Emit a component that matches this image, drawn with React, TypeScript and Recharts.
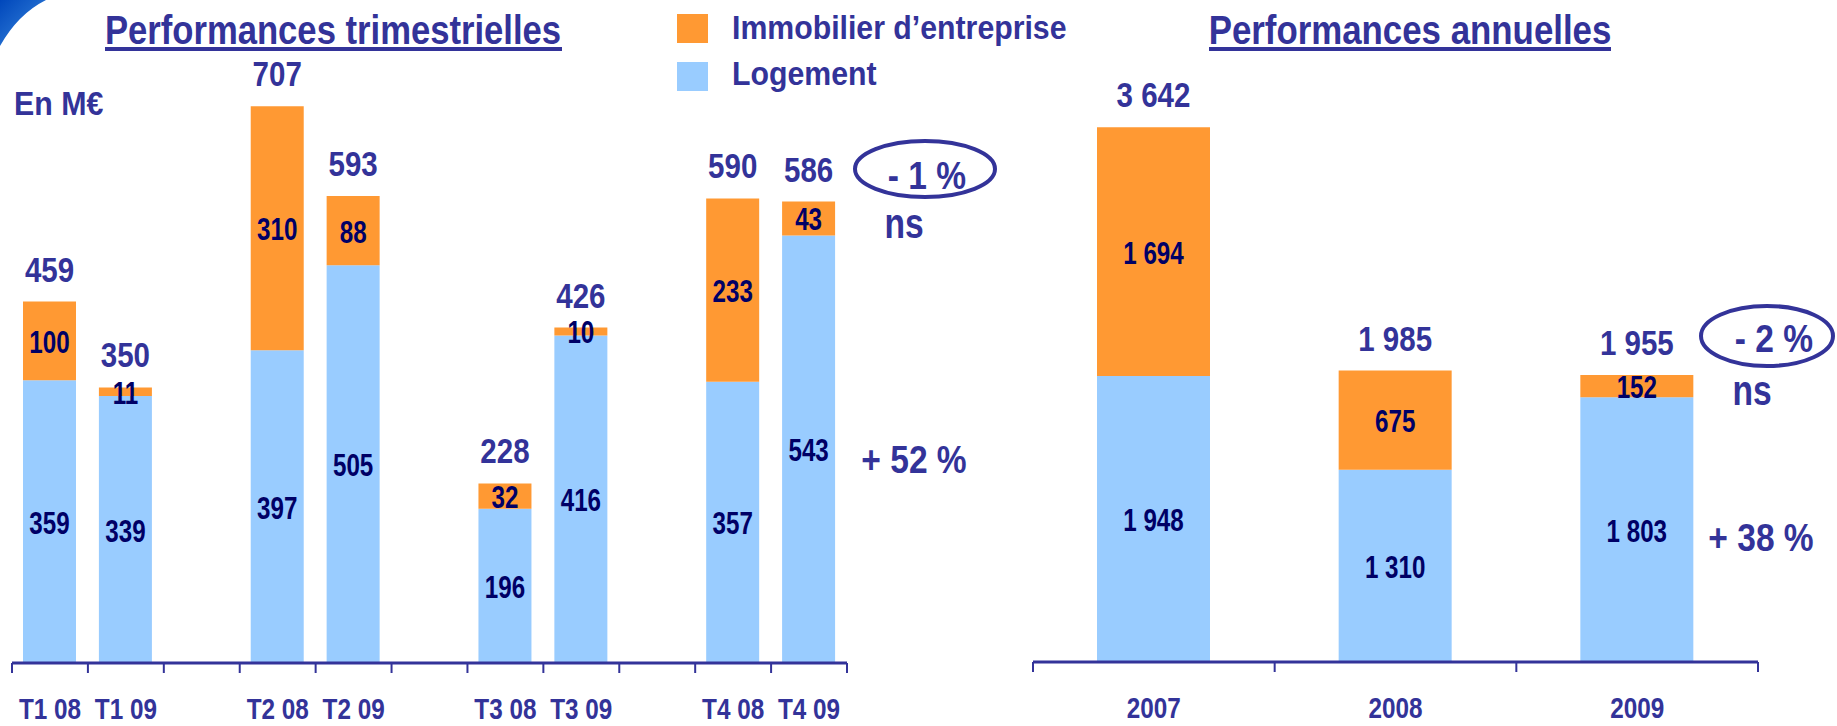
import React from 'react'
import { Bar, BarChart, LabelList, XAxis, YAxis } from 'recharts'

const quarters = ['T1 08', 'T1 09', '', 'T2 08', 'T2 09', '', 'T3 08', 'T3 09', '', 'T4 08', 'T4 09']
const quarterLogement = [359, 339, null, 397, 505, null, 196, 416, null, 357, 543]
const quarterImmo = [100, 11, null, 310, 88, null, 32, 10, null, 233, 43]
const quarterTotal = [459, 350, null, 707, 593, null, 228, 426, null, 590, 586]

const years = ['2007', '2008', '2009']
const yearLogement = [1948, 1310, 1803]
const yearImmo = [1694, 675, 152]
const yearTotal = [3642, 1985, 1955]

const BLUE_TEXT = '#333399'
const NAVY = '#000066'
const ORANGE = '#FF9933'
const LIGHT_BLUE = '#99CCFF'
const FONT = "'Liberation Sans', Arial, sans-serif"

const quarterData = quarters.map((name, i) => ({
    name,
    logement: quarterLogement[i],
    immo: quarterImmo[i],
    total: quarterTotal[i],
}))

const yearData = years.map((name, i) => ({
    name,
    logement: yearLogement[i],
    immo: yearImmo[i],
    total: yearTotal[i],
}))

const fmt = (v: number): string => String(v).replace(/\B(?=(\d{3})+(?!\d))/g, ' ')

// bold Arial squeezed horizontally, close to the Arial Narrow of the slide
const NText = ({ x, y, size, fill = BLUE_TEXT, anchor = 'middle', sx = 0.82, children }: any) => (
    <text transform={`translate(${x} ${y}) scale(${sx} 1)`} textAnchor={anchor}
        fontFamily={FONT} fontWeight="bold" fontSize={size} fill={fill}>
        {children}
    </text>
)

const innerLabel = (props: any) => {
    const { x, y, width, height, value } = props
    if (value == null) return null
    return <NText x={x + width / 2} y={y + height / 2 + 12} size={31} sx={0.78} fill={NAVY}>{fmt(value)}</NText>
}

const totalLabel = (props: any) => {
    const { x, y, width, value } = props
    if (value == null) return null
    return <NText x={x + width / 2} y={y - 20} size={36} sx={0.82}>{fmt(value)}</NText>
}

const makeTick = (band: number, count: number, dy: number) => (props: any) => {
    const { x, y, payload, index } = props
    return (
        <g>
            <line x1={x - band / 2} x2={x - band / 2} y1={y} y2={y + 10} stroke={BLUE_TEXT} strokeWidth={2} />
            {index === count - 1 && (
                <line x1={x + band / 2} x2={x + band / 2} y1={y} y2={y + 10} stroke={BLUE_TEXT} strokeWidth={2} />
            )}
            <NText x={x} y={y + dy} size={30} sx={0.81}>{payload.value}</NText>
        </g>
    )
}

const QuarterChart = () => (
    <BarChart width={860} height={726} data={quarterData}
        margin={{ top: 33, right: 13, bottom: 0, left: 12 }}>
        <XAxis dataKey="name" height={63} interval={0} tickSize={0} tickMargin={0} tickLine={false}
            axisLine={{ stroke: BLUE_TEXT, strokeWidth: 3 }}
            tick={makeTick(835 / 11, quarters.length, 56)} />
        <YAxis hide domain={[0, 800]} />
        <Bar dataKey="logement" stackId="a" fill={LIGHT_BLUE} barSize={53} isAnimationActive={false}>
            <LabelList dataKey="logement" content={innerLabel} />
        </Bar>
        <Bar dataKey="immo" stackId="a" fill={ORANGE} barSize={53} isAnimationActive={false}>
            <LabelList dataKey="immo" content={innerLabel} />
            <LabelList dataKey="total" content={totalLabel} />
        </Bar>
    </BarChart>
)

const YearChart = () => (
    <BarChart width={837} height={726} data={yearData}
        margin={{ top: 16, right: 79, bottom: 0, left: 33 }}>
        <XAxis dataKey="name" height={64} interval={0} tickSize={0} tickMargin={0} tickLine={false}
            axisLine={{ stroke: BLUE_TEXT, strokeWidth: 3 }}
            tick={makeTick(725 / 3, years.length, 56)} />
        <YAxis hide domain={[0, 4400]} />
        <Bar dataKey="logement" stackId="a" fill={LIGHT_BLUE} barSize={113} isAnimationActive={false}>
            <LabelList dataKey="logement" content={innerLabel} />
        </Bar>
        <Bar dataKey="immo" stackId="a" fill={ORANGE} barSize={113} isAnimationActive={false}>
            <LabelList dataKey="immo" content={innerLabel} />
            <LabelList dataKey="total" content={totalLabel} />
        </Bar>
    </BarChart>
)

const App = () => {
    return (
        <div style={{ position: 'absolute', left: 0, top: 0, width: 1837, height: 726, background: '#fff', overflow: 'hidden' }}>
            <div style={{ position: 'absolute', left: 0, top: 0 }}>
                <QuarterChart />
            </div>
            <div style={{ position: 'absolute', left: 1000, top: 0 }}>
                <YearChart />
            </div>
            <svg width={1837} height={726} style={{ position: 'absolute', left: 0, top: 0, pointerEvents: 'none' }}>
                <defs>
                    <linearGradient id="swoosh" x1="0" y1="0" x2="1" y2="1">
                        <stop offset="0" stopColor="#0047BB" />
                        <stop offset="1" stopColor="#3D8BE0" />
                    </linearGradient>
                </defs>
                <path d="M0,0 L46,0 Q18,14 0,46 Z" fill="url(#swoosh)" />

                <NText x={333} y={44} size={41} sx={0.845}>Performances trimestrielles</NText>
                <rect x={105} y={47} width={457} height={4} fill={BLUE_TEXT} />
                <NText x={1410} y={44} size={41} sx={0.85}>Performances annuelles</NText>
                <rect x={1209} y={47} width={402} height={4} fill={BLUE_TEXT} />

                <rect x={677} y={14} width={31} height={29} fill={ORANGE} />
                <NText x={732} y={39} size={34} sx={0.89} anchor="start">Immobilier d’entreprise</NText>
                <rect x={677} y={62} width={31} height={29} fill={LIGHT_BLUE} />
                <NText x={732} y={85} size={34} sx={0.89} anchor="start">Logement</NText>

                <NText x={14} y={115} size={33} sx={0.92} anchor="start">En M€</NText>

                <ellipse cx={925} cy={169} rx={70} ry={28} fill="none" stroke={BLUE_TEXT} strokeWidth={4} />
                <NText x={927} y={189} size={39} sx={0.86}>- 1 %</NText>
                <NText x={904} y={238} size={42} sx={0.8}>ns</NText>
                <NText x={914} y={473} size={39} sx={0.86}>+ 52 %</NText>

                <ellipse cx={1767} cy={336} rx={66} ry={30} fill="none" stroke={BLUE_TEXT} strokeWidth={4} />
                <NText x={1774} y={352} size={39} sx={0.86}>- 2 %</NText>
                <NText x={1752} y={405} size={42} sx={0.8}>ns</NText>
                <NText x={1761} y={551} size={39} sx={0.86}>+ 38 %</NText>
            </svg>
        </div>
    )
}

export default App
